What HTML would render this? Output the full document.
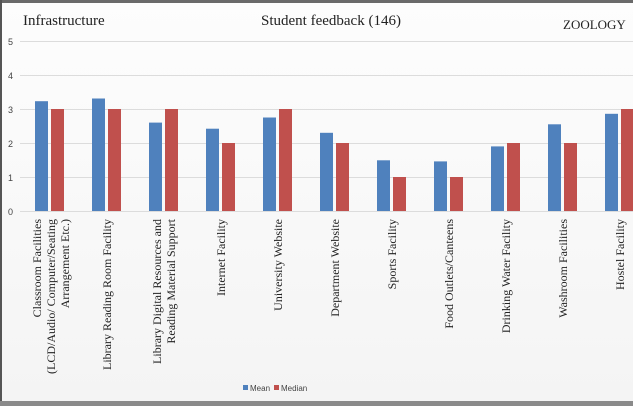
<!DOCTYPE html>
<html><head><style>body{margin:0;background:#fff}svg{display:block}</style></head><body>
<svg width="633" height="406" viewBox="0 0 633 406" xmlns="http://www.w3.org/2000/svg">
<defs><linearGradient id="bg" x1="0" y1="0" x2="0" y2="1"><stop offset="0" stop-color="#fdfdfd"/><stop offset="1" stop-color="#f4f4f4"/></linearGradient></defs>
<rect width="633" height="406" fill="url(#bg)"/>
<rect x="0" y="0" width="633" height="3" fill="#6a6a6a"/>
<rect x="0" y="0" width="2" height="406" fill="#555"/>
<rect x="0" y="401" width="633" height="5" fill="#8a8a8a"/>
<g stroke="#dcdcdc" stroke-width="1">
<line x1="20" x2="633" y1="41.5" y2="41.5"/><line x1="20" x2="633" y1="75.5" y2="75.5"/><line x1="20" x2="633" y1="109.5" y2="109.5"/><line x1="20" x2="633" y1="143.5" y2="143.5"/><line x1="20" x2="633" y1="177.5" y2="177.5"/><line x1="20" x2="633" y1="211.5" y2="211.5"/>
</g>
<g font-family="Liberation Sans, sans-serif" font-size="9" fill="#444">
<text x="8" y="45">5</text><text x="8" y="79">4</text><text x="8" y="113">3</text><text x="8" y="147">2</text><text x="8" y="181">1</text><text x="8" y="215">0</text>
</g>
<g font-family="Liberation Serif, serif" font-size="15" fill="#222">
<text x="23" y="25">Infrastructure</text>
<text x="261" y="25">Student feedback (146)</text>
<text x="563" y="29" font-size="13">ZOOLOGY</text>
</g>
<g fill="#4f81bd">
<rect x="35" y="101.2" width="13" height="109.8"/>
<rect x="92" y="98.5" width="13" height="112.5"/>
<rect x="149" y="122.6" width="13" height="88.4"/>
<rect x="206" y="128.7" width="13" height="82.3"/>
<rect x="263" y="117.5" width="13" height="93.5"/>
<rect x="320" y="132.8" width="13" height="78.2"/>
<rect x="377" y="160.3" width="13" height="50.7"/>
<rect x="434" y="161.4" width="13" height="49.6"/>
<rect x="491" y="146.4" width="13" height="64.6"/>
<rect x="548" y="124.3" width="13" height="86.7"/>
<rect x="605" y="113.8" width="13" height="97.2"/>
</g>
<g fill="#c0504d">
<rect x="51" y="109" width="13" height="102"/>
<rect x="108" y="109" width="13" height="102"/>
<rect x="165" y="109" width="13" height="102"/>
<rect x="222" y="143" width="13" height="68"/>
<rect x="279" y="109" width="13" height="102"/>
<rect x="336" y="143" width="13" height="68"/>
<rect x="393" y="177" width="13" height="34"/>
<rect x="450" y="177" width="13" height="34"/>
<rect x="507" y="143" width="13" height="68"/>
<rect x="564" y="143" width="13" height="68"/>
<rect x="621" y="109" width="13" height="102"/>
</g>
<g font-family="Liberation Serif, serif" font-size="12" fill="#222" text-anchor="end">
<g transform="translate(41,219) rotate(-90)"><text>Classroom Facilities</text></g>
<g transform="translate(55,219) rotate(-90)"><text>(LCD/Audio/ Computer/Seating</text></g>
<g transform="translate(69,219) rotate(-90)"><text>Arrangement Etc.)</text></g>
<g transform="translate(111,219) rotate(-90)"><text>Library Reading Room Facility</text></g>
<g transform="translate(161,219) rotate(-90)"><text>Library Digital Resources and</text></g>
<g transform="translate(175,219) rotate(-90)"><text>Reading Material Support</text></g>
<g transform="translate(225,219) rotate(-90)"><text>Internet Facility</text></g>
<g transform="translate(282,219) rotate(-90)"><text>University Website</text></g>
<g transform="translate(339,219) rotate(-90)"><text>Department Website</text></g>
<g transform="translate(396,219) rotate(-90)"><text>Sports Facility</text></g>
<g transform="translate(453,219) rotate(-90)"><text>Food Outlets/Canteens</text></g>
<g transform="translate(510,219) rotate(-90)"><text>Drinking Water Facility</text></g>
<g transform="translate(567,219) rotate(-90)"><text>Washroom Facilities</text></g>
<g transform="translate(624,219) rotate(-90)"><text>Hostel Facility</text></g>
</g>
<rect x="243" y="385" width="5" height="5" fill="#4f81bd"/>
<rect x="274" y="385" width="5" height="5" fill="#c0504d"/>
<g font-family="Liberation Sans, sans-serif" font-size="8" fill="#444">
<text x="250" y="391">Mean</text><text x="281" y="391">Median</text>
</g>
</svg>
</body></html>
